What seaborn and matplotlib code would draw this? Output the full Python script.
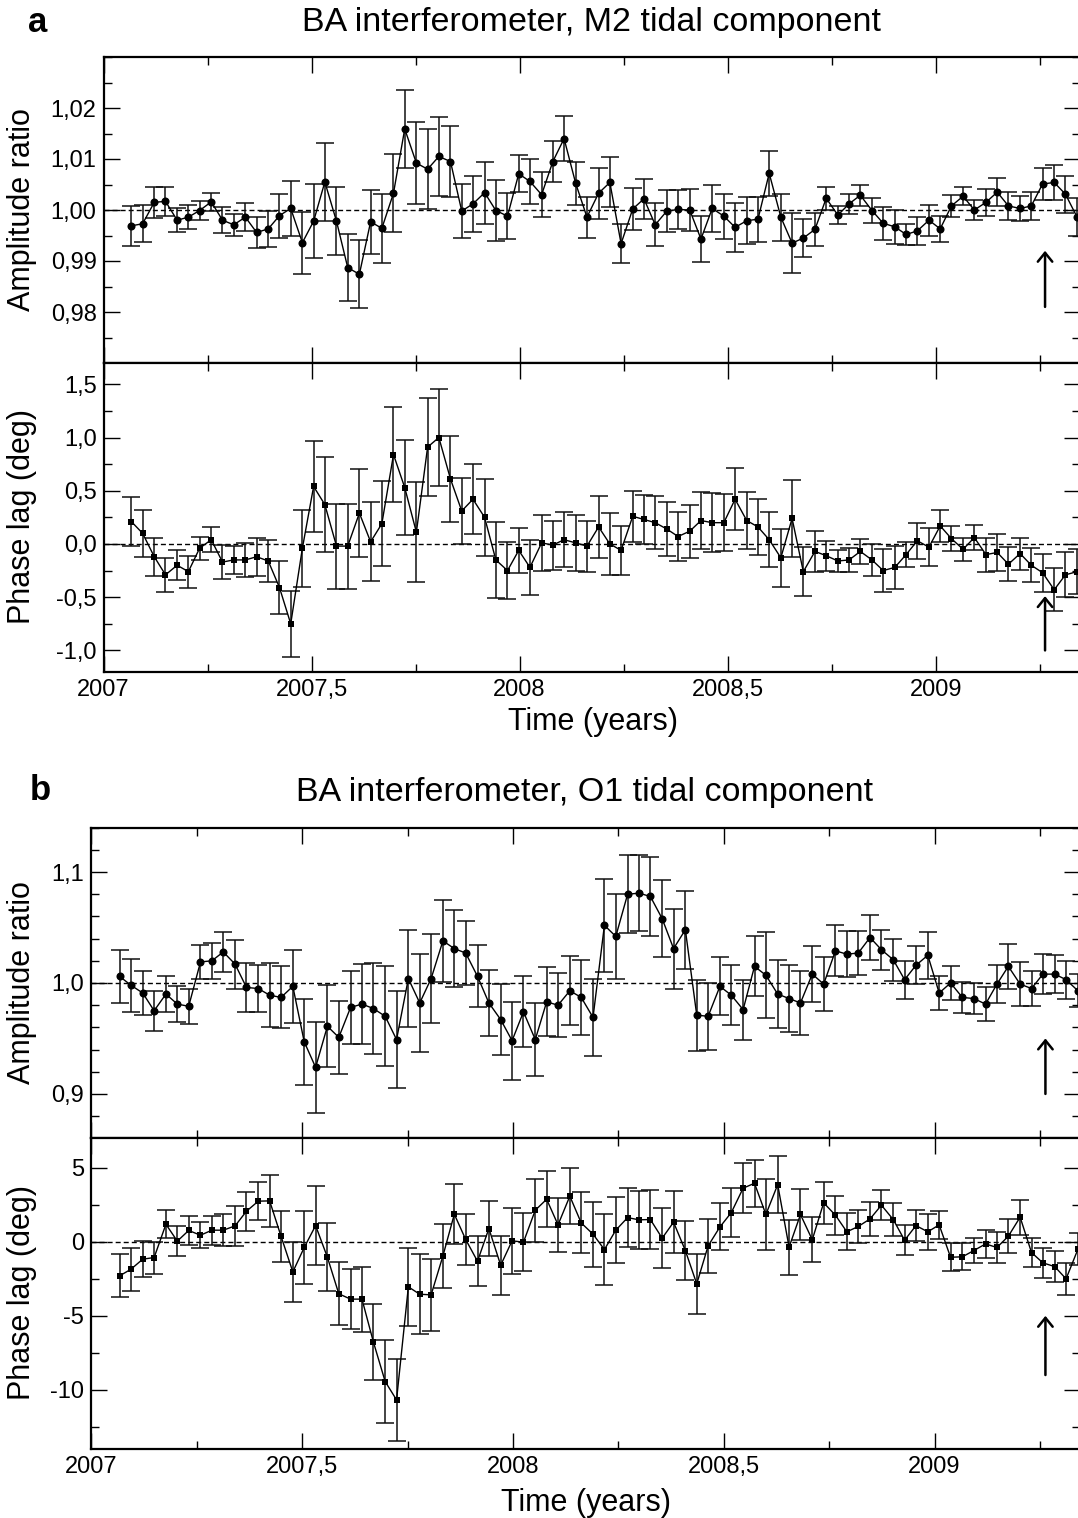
import matplotlib
matplotlib.use("Agg")
from matplotlib import pyplot as plt
from matplotlib.ticker import FixedLocator, MultipleLocator, FuncFormatter
import pandas as pd
import seaborn as sns

# sampling times (decimal years, one value every ~10 days)
times = [2007.067, 2007.094, 2007.122, 2007.149, 2007.177, 2007.204, 2007.231, 2007.259,
         2007.286, 2007.313, 2007.341, 2007.368, 2007.396, 2007.423, 2007.450, 2007.478,
         2007.505, 2007.532, 2007.560, 2007.587, 2007.615, 2007.642, 2007.669, 2007.697,
         2007.724, 2007.752, 2007.779, 2007.806, 2007.834, 2007.861, 2007.888, 2007.916,
         2007.943, 2007.971, 2007.998, 2008.025, 2008.053, 2008.080, 2008.107, 2008.135,
         2008.162, 2008.190, 2008.217, 2008.244, 2008.272, 2008.299, 2008.326, 2008.354,
         2008.381, 2008.409, 2008.436, 2008.463, 2008.491, 2008.518, 2008.546, 2008.573,
         2008.600, 2008.628, 2008.655, 2008.682, 2008.710, 2008.737, 2008.765, 2008.792,
         2008.819, 2008.847, 2008.874, 2008.902, 2008.929, 2008.956, 2008.984, 2009.011,
         2009.038, 2009.066, 2009.093, 2009.121, 2009.148, 2009.175, 2009.203, 2009.230,
         2009.257, 2009.285, 2009.312, 2009.340]

# a: M2 amplitude ratio
m2_amp = [0.9969, 0.9973, 1.0015, 1.0017, 0.9980, 0.9986, 0.9999, 1.0016, 0.9980, 0.9971,
          0.9986, 0.9956, 0.9963, 0.9989, 1.0003, 0.9936, 0.9978, 1.0055, 0.9978, 0.9887,
          0.9874, 0.9977, 0.9964, 1.0033, 1.0159, 1.0092, 1.0080, 1.0105, 1.0095, 0.9998,
          1.0012, 1.0034, 0.9999, 0.9988, 1.0071, 1.0056, 1.0030, 1.0095, 1.0140, 1.0052,
          0.9986, 1.0033, 1.0054, 0.9934, 1.0002, 1.0022, 0.9971, 0.9998, 1.0001, 1.0000,
          0.9943, 1.0003, 0.9988, 0.9966, 0.9979, 0.9982, 1.0072, 0.9986, 0.9935, 0.9945,
          0.9962, 1.0023, 0.9990, 1.0012, 1.0029, 0.9999, 0.9974, 0.9967, 0.9952, 0.9959,
          0.9980, 0.9963, 1.0008, 1.0027, 1.0000, 1.0015, 1.0035, 1.0008, 1.0003, 1.0008,
          1.0051, 1.0054, 1.0031, 0.9986]
m2_amp_err = [0.0039, 0.0036, 0.0031, 0.0028, 0.0024, 0.0023, 0.0019, 0.0018, 0.0026, 0.0022,
              0.0027, 0.0030, 0.0035, 0.0043, 0.0053, 0.0061, 0.0072, 0.0077, 0.0067, 0.0066,
              0.0067, 0.0063, 0.0068, 0.0076, 0.0077, 0.0080, 0.0078, 0.0077, 0.0069, 0.0052,
              0.0055, 0.0061, 0.0060, 0.0045, 0.0036, 0.0044, 0.0044, 0.0040, 0.0044, 0.0042,
              0.0040, 0.0050, 0.0049, 0.0038, 0.0041, 0.0039, 0.0042, 0.0042, 0.0039, 0.0042,
              0.0045, 0.0047, 0.0044, 0.0048, 0.0046, 0.0044, 0.0044, 0.0046, 0.0059, 0.0038,
              0.0032, 0.0023, 0.0017, 0.0019, 0.0021, 0.0025, 0.0032, 0.0033, 0.0021, 0.0028,
              0.0030, 0.0026, 0.0022, 0.0018, 0.0019, 0.0026, 0.0027, 0.0028, 0.0025, 0.0027,
              0.0031, 0.0035, 0.0036, 0.0037]

# a: M2 phase lag (deg)
m2_phase = [0.21, 0.10, -0.12, -0.29, -0.20, -0.26, -0.04, 0.04, -0.17, -0.15,
            -0.15, -0.12, -0.16, -0.41, -0.75, -0.04, 0.54, 0.37, -0.02, -0.02,
            0.29, 0.02, 0.19, 0.84, 0.53, 0.11, 0.91, 1.00, 0.61, 0.31,
            0.42, 0.25, -0.15, -0.25, -0.06, -0.22, 0.01, -0.01, 0.04, 0.01,
            -0.02, 0.16, 0.00, -0.06, 0.26, 0.23, 0.20, 0.14, 0.07, 0.12,
            0.22, 0.20, 0.20, 0.42, 0.22, 0.16, 0.04, -0.13, 0.24, -0.26,
            -0.07, -0.11, -0.16, -0.15, -0.07, -0.15, -0.25, -0.22, -0.10, 0.03,
            -0.03, 0.17, 0.05, -0.05, 0.06, -0.10, -0.08, -0.19, -0.09, -0.20,
            -0.27, -0.43, -0.29, -0.26]
m2_phase_err = [0.23, 0.22, 0.18, 0.16, 0.14, 0.15, 0.11, 0.12, 0.16, 0.13,
                0.16, 0.18, 0.20, 0.25, 0.31, 0.36, 0.43, 0.45, 0.40, 0.40,
                0.41, 0.37, 0.40, 0.45, 0.45, 0.47, 0.46, 0.46, 0.40, 0.31,
                0.33, 0.36, 0.36, 0.27, 0.21, 0.26, 0.26, 0.23, 0.26, 0.26,
                0.24, 0.29, 0.29, 0.23, 0.24, 0.23, 0.25, 0.25, 0.23, 0.25,
                0.27, 0.28, 0.27, 0.29, 0.27, 0.26, 0.26, 0.27, 0.36, 0.23,
                0.19, 0.14, 0.10, 0.11, 0.12, 0.15, 0.20, 0.20, 0.12, 0.17,
                0.18, 0.15, 0.12, 0.11, 0.12, 0.16, 0.17, 0.16, 0.15, 0.16,
                0.18, 0.20, 0.21, 0.21]

# b: O1 amplitude ratio
o1_amp = [1.006, 0.998, 0.991, 0.975, 0.990, 0.981, 0.979, 1.019, 1.020, 1.028,
          1.017, 0.996, 0.995, 0.989, 0.987, 0.997, 0.947, 0.924, 0.961, 0.951,
          0.978, 0.981, 0.977, 0.970, 0.949, 1.004, 0.982, 1.004, 1.038, 1.031,
          1.027, 1.006, 0.982, 0.967, 0.948, 0.974, 0.949, 0.983, 0.980, 0.993,
          0.987, 0.969, 1.052, 1.042, 1.080, 1.081, 1.078, 1.058, 1.031, 1.048,
          0.971, 0.970, 0.997, 0.989, 0.976, 1.015, 1.007, 0.990, 0.986, 0.982,
          1.008, 0.999, 1.029, 1.026, 1.027, 1.041, 1.030, 1.021, 1.003, 1.016,
          1.025, 0.991, 1.000, 0.987, 0.986, 0.981, 0.999, 1.015, 0.999, 0.995,
          1.008, 1.008, 1.003, 0.993]
o1_amp_err = [0.024, 0.024, 0.020, 0.018, 0.016, 0.016, 0.016, 0.015, 0.016, 0.018,
              0.022, 0.022, 0.021, 0.029, 0.028, 0.033, 0.039, 0.041, 0.037, 0.033,
              0.033, 0.036, 0.041, 0.045, 0.044, 0.044, 0.044, 0.040, 0.037, 0.035,
              0.029, 0.028, 0.030, 0.032, 0.035, 0.032, 0.033, 0.031, 0.029, 0.031,
              0.034, 0.035, 0.042, 0.038, 0.035, 0.034, 0.036, 0.035, 0.036, 0.035,
              0.032, 0.030, 0.026, 0.027, 0.027, 0.027, 0.039, 0.031, 0.030, 0.029,
              0.025, 0.024, 0.023, 0.021, 0.020, 0.020, 0.018, 0.019, 0.017, 0.017,
              0.021, 0.015, 0.015, 0.014, 0.014, 0.015, 0.017, 0.020, 0.020, 0.016,
              0.018, 0.017, 0.017, 0.015]

# b: O1 phase lag (deg)
o1_phase = [-2.30, -1.85, -1.17, -1.06, 1.19, 0.05, 0.77, 0.45, 0.79, 0.79,
            1.08, 2.07, 2.75, 2.77, 0.38, -2.03, -0.38, 1.10, -1.04, -3.51,
            -3.87, -3.87, -6.76, -9.44, -10.68, -3.04, -3.54, -3.58, -0.95, 1.87,
            0.16, -1.31, 0.90, -1.58, 0.07, -0.02, 2.14, 2.88, 1.15, 3.09,
            1.28, 0.52, -0.52, 0.79, 1.64, 1.49, 1.51, 0.25, 1.33, -0.59,
            -2.84, -0.27, 1.01, 1.98, 3.63, 3.96, 1.85, 3.87, -0.36, 1.85,
            0.14, 2.64, 1.80, 0.68, 1.04, 1.55, 2.48, 1.51, 0.11, 1.10,
            0.68, 1.15, -1.04, -1.01, -0.59, -0.14, -0.38, 0.38, 1.67, -0.72,
            -1.42, -1.67, -2.50, -0.50]
o1_phase_err = [1.45, 1.44, 1.22, 1.08, 0.96, 1.00, 0.97, 0.86, 0.99, 1.08,
                1.34, 1.32, 1.30, 1.75, 1.72, 2.02, 2.46, 2.69, 2.31, 2.14,
                2.04, 2.20, 2.56, 2.79, 2.75, 2.65, 2.71, 2.42, 2.16, 2.02,
                1.73, 1.68, 1.88, 1.99, 2.24, 1.97, 2.14, 1.88, 1.82, 1.88,
                2.06, 2.20, 2.39, 2.23, 2.01, 1.94, 2.01, 2.02, 2.08, 1.99,
                2.03, 1.82, 1.59, 1.64, 1.68, 1.60, 2.38, 1.94, 1.86, 1.75,
                1.51, 1.43, 1.31, 1.25, 1.14, 1.17, 1.01, 1.12, 1.01, 1.04,
                1.23, 0.95, 0.95, 0.90, 0.82, 0.92, 1.04, 1.16, 1.19, 0.96,
                1.03, 1.03, 1.09, 1.08]

# event marked with an arrow, and arrow extents in each panel (base, tip)
arrow_time = 2009.263
arrow_m2_amp = (0.981, 0.992)
arrow_m2_phase = (-1.0, -0.49)
arrow_o1_amp = (0.900, 0.950)
arrow_o1_phase = (-9.0, -5.0)

W, H = 1078, 1518


def _rect(left, top, right, bottom):
    return [left / W, 1 - bottom / H, (right - left) / W, (bottom - top) / H]


def _comma(fmt):
    return FuncFormatter(lambda v, pos: fmt.format(v).replace('.', ','))


def _year_label(v, pos):
    if abs(v - round(v)) < 1e-6:
        return str(int(round(v)))
    return f'{v:.1f}'.replace('.', ',')


def _draw_series(ax, y, err, ref, marker, msize):
    df = pd.DataFrame({'time': times, 'value': y, 'err': err})
    ax.axhline(ref, color='black', lw=1.0, ls=(0, (3.6, 2.2)), zorder=1)
    ax.errorbar(df['time'], df['value'], yerr=df['err'], fmt='none', ecolor='#111111',
                elinewidth=1.1, capsize=6.2, capthick=1.1, zorder=2)
    sns.lineplot(data=df, x='time', y='value', ax=ax, color='black', lw=1.0,
                 marker=marker, markersize=msize, markeredgewidth=0,
                 markerfacecolor='black', errorbar=None, zorder=3)
    ax.set_xlabel('')
    ax.set_ylabel('')


def _style(ax, xmax, ylim, majors, minor, fmt, xlabels):
    ax.set_xlim(2007, xmax)
    ax.set_ylim(*ylim)
    ax.xaxis.set_major_locator(MultipleLocator(0.5))
    ax.xaxis.set_minor_locator(MultipleLocator(0.25))
    ax.yaxis.set_major_locator(FixedLocator(majors))
    ax.yaxis.set_minor_locator(MultipleLocator(minor))
    ax.yaxis.set_major_formatter(_comma(fmt))
    if xlabels:
        ax.xaxis.set_major_formatter(FuncFormatter(_year_label))
    else:
        ax.tick_params(axis='x', labelbottom=False)
    ax.tick_params(which='both', direction='in', top=True, right=True, width=1.0,
                   labelsize=17, pad=5, color='black', labelcolor='black')
    ax.tick_params(which='major', length=11.5)
    ax.tick_params(which='minor', length=5.8)
    for sp in ax.spines.values():
        sp.set_linewidth(1.6)
        sp.set_color('black')


def _arrow(ax, ext):
    ax.annotate('', xy=(arrow_time, ext[1]), xytext=(arrow_time, ext[0]),
                arrowprops=dict(arrowstyle='->,head_length=0.32,head_width=0.26',
                                lw=1.8, color='black', mutation_scale=20,
                                shrinkA=0, shrinkB=0), zorder=4)


sns.set_style('ticks')
plt.rcParams['font.family'] = ['Liberation Sans', 'DejaVu Sans']
plt.rcParams['text.color'] = 'black'
plt.rcParams['axes.labelcolor'] = 'black'
plt.rcParams['xtick.color'] = 'black'
plt.rcParams['ytick.color'] = 'black'

fig = plt.figure(figsize=(W / 100, H / 100), dpi=100)

ax_a1 = fig.add_axes(_rect(103.5, 57, 1080, 363))
ax_a2 = fig.add_axes(_rect(103.5, 363, 1080, 671.7))
ax_b1 = fig.add_axes(_rect(91.3, 827.7, 1080, 1138.3))
ax_b2 = fig.add_axes(_rect(91.3, 1138.3, 1080, 1449))

_draw_series(ax_a1, m2_amp, m2_amp_err, 1.0, 'o', 5.8)
_draw_series(ax_a2, m2_phase, m2_phase_err, 0.0, 's', 4.9)
_draw_series(ax_b1, o1_amp, o1_amp_err, 1.0, 'o', 5.8)
_draw_series(ax_b2, o1_phase, o1_phase_err, 0.0, 's', 4.9)

_style(ax_a1, 2009.347, (0.97, 1.03), [0.98, 0.99, 1.00, 1.01, 1.02], 0.005, '{:.2f}', False)
_style(ax_a2, 2009.347, (-1.2, 1.7), [-1.0, -0.5, 0.0, 0.5, 1.0, 1.5], 0.25, '{:.1f}', True)
_style(ax_b1, 2009.345, (0.86, 1.14), [0.9, 1.0, 1.1], 0.02, '{:.1f}', False)
_style(ax_b2, 2009.345, (-14, 7), [-10, -5, 0, 5], 2.5, '{:.0f}', True)

_arrow(ax_a1, arrow_m2_amp)
_arrow(ax_a2, arrow_m2_phase)
_arrow(ax_b1, arrow_o1_amp)
_arrow(ax_b2, arrow_o1_phase)

# titles, panel letters and axis labels
fig.text(591 / W, 1 - 22 / H, 'BA interferometer, M2 tidal component', fontsize=24.5,
         ha='center', va='center')
fig.text(585 / W, 1 - 793 / H, 'BA interferometer, O1 tidal component', fontsize=24.5,
         ha='center', va='center')
fig.text(38 / W, 1 - 22 / H, 'a', fontsize=25, fontweight='bold', ha='center', va='center')
fig.text(40 / W, 1 - 790 / H, 'b', fontsize=25, fontweight='bold', ha='center', va='center')
fig.text(593 / W, 1 - 722 / H, 'Time (years)', fontsize=22, ha='center', va='center')
fig.text(586 / W, 1 - 1503 / H, 'Time (years)', fontsize=22, ha='center', va='center')
for yc, label in [(210, 'Amplitude ratio'), (517, 'Phase lag (deg)'),
                  (983, 'Amplitude ratio'), (1293, 'Phase lag (deg)')]:
    fig.text(22 / W, 1 - yc / H, label, fontsize=22, rotation=90, ha='center', va='center')

fig.savefig('out.png', dpi=100)
